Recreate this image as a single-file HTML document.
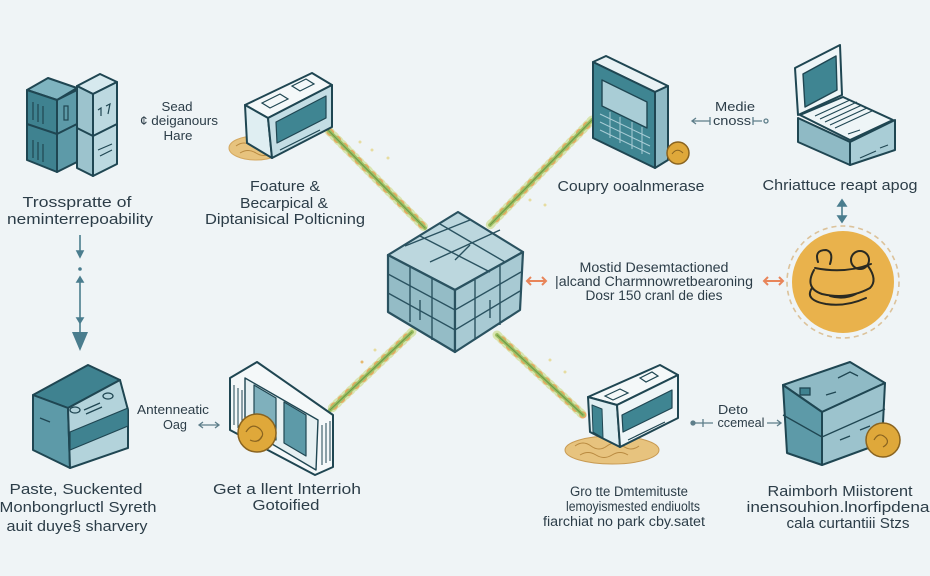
<!DOCTYPE html>
<html>
<head>
<meta charset="utf-8">
<style>
  html,body{margin:0;padding:0;background:#eff4f6;}
  svg{display:block;}
  text{font-family:"Liberation Sans",sans-serif;fill:#2c3d48;}
</style>
</head>
<body>
<svg width="930" height="576" viewBox="0 0 930 576" xmlns="http://www.w3.org/2000/svg">
  <rect width="930" height="576" fill="#eff4f6"/>

  <!-- ===== Vines ===== -->
  <g stroke-linecap="round">
    <g>
      <line x1="325" y1="127" x2="425" y2="228" stroke="#d3e19e" stroke-width="9" stroke-dasharray="2 4" opacity="0.8"/>
      <line x1="325" y1="127" x2="425" y2="228" stroke="#e9a862" stroke-width="7" stroke-dasharray="1 9" stroke-dashoffset="3"/>
      <line x1="325" y1="127" x2="425" y2="228" stroke="#9fc164" stroke-width="4" stroke-dasharray="3 2"/>
      <line x1="325" y1="127" x2="425" y2="228" stroke="#6f9a4a" stroke-width="1.2"/>
      <circle cx="360" cy="142" r="1.5" fill="#e6dca0"/><circle cx="372" cy="150" r="1.5" fill="#e6dca0"/><circle cx="388" cy="158" r="1.5" fill="#e6dca0"/>
    </g>
    <g>
      <line x1="592" y1="120" x2="490" y2="225" stroke="#d3e19e" stroke-width="9" stroke-dasharray="2 4" opacity="0.8"/>
      <line x1="592" y1="120" x2="490" y2="225" stroke="#e9a862" stroke-width="7" stroke-dasharray="1 9" stroke-dashoffset="3"/>
      <line x1="592" y1="120" x2="490" y2="225" stroke="#9fc164" stroke-width="4" stroke-dasharray="3 2"/>
      <line x1="592" y1="120" x2="490" y2="225" stroke="#6f9a4a" stroke-width="1.2"/>
      <circle cx="530" cy="200" r="1.5" fill="#e6dca0"/><circle cx="545" cy="205" r="1.5" fill="#e6dca0"/>
    </g>
    <g>
      <line x1="412" y1="332" x2="330" y2="410" stroke="#d3e19e" stroke-width="9" stroke-dasharray="2 4" opacity="0.8"/>
      <line x1="412" y1="332" x2="330" y2="410" stroke="#e9a862" stroke-width="7" stroke-dasharray="1 9" stroke-dashoffset="3"/>
      <line x1="412" y1="332" x2="330" y2="410" stroke="#9fc164" stroke-width="4" stroke-dasharray="3 2"/>
      <line x1="412" y1="332" x2="330" y2="410" stroke="#6f9a4a" stroke-width="1.2"/>
      <circle cx="362" cy="362" r="1.5" fill="#e6b870"/><circle cx="375" cy="350" r="1.5" fill="#e6dca0"/>
    </g>
    <g>
      <line x1="497" y1="335" x2="583" y2="415" stroke="#d3e19e" stroke-width="9" stroke-dasharray="2 4" opacity="0.8"/>
      <line x1="497" y1="335" x2="583" y2="415" stroke="#e9a862" stroke-width="7" stroke-dasharray="1 9" stroke-dashoffset="3"/>
      <line x1="497" y1="335" x2="583" y2="415" stroke="#9fc164" stroke-width="4" stroke-dasharray="3 2"/>
      <line x1="497" y1="335" x2="583" y2="415" stroke="#6f9a4a" stroke-width="1.2"/>
      <circle cx="550" cy="360" r="1.5" fill="#e6dca0"/><circle cx="565" cy="372" r="1.5" fill="#e6dca0"/>
    </g>
  </g>

  <!-- ===== Top-left server stack ===== -->
  <g stroke="#1f4652" stroke-width="2" stroke-linejoin="round">
    <polygon points="27,90 48,78 77,88 57,100" fill="#7fb4c0"/>
    <polygon points="27,90 57,100 57,172 27,160" fill="#3f8290"/>
    <polygon points="57,100 77,90 77,162 57,172" fill="#5d9aa8"/>
    <line x1="27" y1="124" x2="57" y2="134"/>
    <line x1="57" y1="134" x2="77" y2="124"/>
    <polygon points="77,86 100,74 117,82 93,94" fill="#d6e9ee"/>
    <polygon points="77,86 93,94 93,176 77,168" fill="#9cc3cd"/>
    <polygon points="93,94 117,82 117,164 93,176" fill="#bcd9e0"/>
    <line x1="77" y1="128" x2="93" y2="136"/>
    <line x1="93" y1="136" x2="117" y2="124"/>
  </g>
  <g stroke="#1f4652" stroke-width="1.2" fill="none">
    <line x1="33" y1="102" x2="33" y2="120"/><line x1="38" y1="104" x2="38" y2="122"/><line x1="43" y1="106" x2="43" y2="124"/>
    <line x1="33" y1="140" x2="33" y2="158"/><line x1="38" y1="142" x2="38" y2="160"/><line x1="43" y1="144" x2="43" y2="162"/>
    <rect x="64" y="106" width="4" height="14"/>
    <path d="M98 110 l3 -2 0 8 M106 106 l4 -2 -2 10"/>
    <path d="M98 150 l14 -6 M100 156 l12 -6"/>
  </g>

  <!-- ===== Top device with coins ===== -->
  <g stroke="#1f4652" stroke-width="2" stroke-linejoin="round">
    <ellipse cx="256" cy="148" rx="27" ry="12" fill="#e7c37e" stroke="#d4a860" stroke-width="1"/>
    <path d="M236 146 q8 -6 16 0 q8 6 16 0 M240 153 q8 -5 16 0 q8 5 14 0" fill="none" stroke="#b98a40" stroke-width="1"/>
    <polygon points="245,105 312,73 332,85 268,118" fill="#f4f8f9"/>
    <polygon points="245,105 268,118 272,158 247,143" fill="#dfeef2"/>
    <polygon points="268,118 332,85 332,127 272,158" fill="#c3dde4"/>
    <polygon points="276,122 326,96 326,118 277,143" fill="#3f8592" stroke-width="1.2"/>
  </g>
  <g stroke="#1f4652" stroke-width="1.2" fill="none">
    <polygon points="262,103 280,94 288,99 270,108"/>
    <polygon points="292,86 306,79 314,84 300,91"/>
    <line x1="280" y1="150" x2="320" y2="130"/>
  </g>

  <!-- ===== Tablet ===== -->
  <g stroke="#1f4652" stroke-width="2" stroke-linejoin="round">
    <polygon points="593,62 606,56 668,86 655,92" fill="#e9f2f4"/>
    <polygon points="655,92 668,86 668,160 655,168" fill="#8fbac5"/>
    <polygon points="593,62 655,92 655,168 593,138" fill="#3f8592"/>
    <polygon points="602,80 647,102 647,128 602,106" fill="#a9cdd6" stroke-width="1.4"/>
  </g>
  <g stroke="#a9cdd6" stroke-width="1" fill="none">
    <path d="M600 114 L650 138 M600 122 L650 146 M600 130 L650 154 M610 112 L610 138 M620 117 L620 143 M632 122 L632 149 M642 127 L642 154"/>
  </g>
  <circle cx="678" cy="153" r="11" fill="#dfa83a" stroke="#8a6420" stroke-width="1.5"/>
  <path d="M672 154 q5 -7 11 -1" fill="none" stroke="#8a6420" stroke-width="1"/>

  <!-- ===== Laptop ===== -->
  <g stroke="#1f4652" stroke-width="2" stroke-linejoin="round">
    <polygon points="798,118 850,142 850,165 798,142" fill="#8fbac5"/>
    <polygon points="850,142 895,120 895,150 850,165" fill="#a9cdd6"/>
    <polygon points="800,115 843,97 893,120 850,140" fill="#eef5f7"/>
    <polygon points="795,68 840,45 842,95 798,115" fill="#eef5f7"/>
    <polygon points="803,74 836,56 837,90 805,107" fill="#3f8592" stroke-width="1.4"/>
  </g>
  <g stroke="#1f4652" stroke-width="1.1" fill="none">
    <path d="M815 116 L850 100 M820 119 L857 102 M825 122 L862 105 M830 125 L867 108 M835 128 L872 111"/>
    <path d="M848 134 l12 -4"/>
    <path d="M860 158 l16 -7 M880 148 l8 -3"/>
  </g>

  <!-- ===== Central cube ===== -->
  <g stroke="#2a5260" stroke-width="2.2" stroke-linejoin="round">
    <polygon points="458,212 523,252 455,290 388,255" fill="#bcd7de"/>
    <polygon points="388,255 455,290 455,352 388,312" fill="#94bcc6"/>
    <polygon points="455,290 523,252 520,310 455,352" fill="#a8cad3"/>
  </g>
  <g stroke="#2a5260" stroke-width="1.4" fill="none">
    <path d="M420 236 L490 272 M440 224 L505 262 M405 246 L470 220 M430 262 L500 230 M470 245 L455 260"/>
    <path d="M388 274 L455 310 L521 272 M388 293 L455 330 L520 291"/>
    <path d="M410 266 L410 322 M432 278 L432 340 M475 280 L475 340 M500 266 L500 325 M420 300 L420 320 M490 300 L490 318"/>
  </g>

  <!-- ===== Gold circle ===== -->
  <circle cx="843" cy="282" r="56" fill="none" stroke="#dcc29a" stroke-width="1.6" stroke-dasharray="5 4"/>
  <circle cx="843" cy="282" r="51" fill="#e9b24c"/>
  <g stroke="#2a2a22" stroke-width="2" fill="none" stroke-linecap="round">
    <path d="M818 262 q-4 -12 8 -12 q8 2 4 14"/>
    <path d="M815 268 q30 6 56 -4"/>
    <circle cx="860" cy="260" r="9"/>
    <path d="M814 270 q-10 18 8 24 q26 6 48 -6 q8 -8 -2 -22"/>
    <path d="M812 288 q-8 12 14 16 q20 3 40 -6"/>
    <path d="M830 296 q14 4 26 -2"/>
  </g>

  <!-- ===== Bottom-left box ===== -->
  <g stroke="#1f4652" stroke-width="2" stroke-linejoin="round">
    <polygon points="33,395 88,365 120,380 68,408" fill="#3f8290"/>
    <polygon points="33,395 68,408 70,468 33,450" fill="#5d9aa8"/>
    <polygon points="68,408 120,380 128,410 128,448 70,468" fill="#b3d3db"/>
    <polygon points="70,432 128,408 128,426 70,450" fill="#3f8290" stroke-width="1.2"/>
  </g>
  <g stroke="#1f4652" stroke-width="1.3" fill="none">
    <ellipse cx="75" cy="410" rx="5" ry="3"/>
    <ellipse cx="108" cy="396" rx="5" ry="3"/>
    <path d="M84 410 l16 -7 M86 414 l16 -7"/>
    <path d="M40 418 l10 4"/>
  </g>

  <!-- ===== Bottom binder ===== -->
  <g stroke="#1f4652" stroke-width="2" stroke-linejoin="round">
    <polygon points="230,378 257,362 333,415 333,467 315,475 230,430" fill="#f4f8f9"/>
    <polygon points="245,378 318,420 316,470 245,428" fill="#e6f0f2" stroke-width="1.4"/>
    <polygon points="254,385 276,398 276,440 254,426" fill="#7fb0bc" stroke-width="1.2"/>
    <polygon points="284,402 306,415 306,456 284,443" fill="#5d9aa8" stroke-width="1.2"/>
  </g>
  <g stroke="#1f4652" stroke-width="1" fill="none">
    <path d="M234 385 l0 40 M238 388 l0 40 M242 390 l0 40 M322 425 l0 40 M326 423 l0 40 M330 421 l0 40"/>
  </g>
  <circle cx="257" cy="433" r="19" fill="#dfa83a" stroke="#8a6420" stroke-width="1.5"/>
  <path d="M246 432 q6 -10 14 -3 q6 6 -2 12 M250 440 q8 4 12 -4" fill="none" stroke="#8a6420" stroke-width="1.2"/>

  <!-- ===== Bottom middle-right device ===== -->
  <ellipse cx="612" cy="450" rx="47" ry="14" fill="#e7c37e" stroke="#c89a52" stroke-width="1"/>
  <path d="M575 446 q8 -6 16 0 q8 6 16 0 q8 -6 16 0 q8 6 16 0 M580 455 q8 -5 16 0 q8 5 16 0 q8 -5 16 0" fill="none" stroke="#b98a40" stroke-width="1"/>
  <g stroke="#1f4652" stroke-width="2" stroke-linejoin="round">
    <polygon points="588,397 660,365 678,375 617,405" fill="#f4f8f9"/>
    <polygon points="588,397 617,405 620,447 590,432" fill="#dfeef2"/>
    <polygon points="617,405 678,375 678,418 620,447" fill="#eef5f7"/>
    <polygon points="622,415 672,390 672,408 623,432" fill="#3f8592" stroke-width="1.2"/>
    <polygon points="592,405 602,409 603,438 593,432" fill="#3f8592" stroke-width="1"/>
  </g>
  <g stroke="#1f4652" stroke-width="1.2" fill="none">
    <polygon points="605,396 620,389 628,393 613,400"/>
    <polygon points="640,378 652,372 658,376 646,382"/>
    <line x1="628" y1="440" x2="665" y2="422"/>
  </g>

  <!-- ===== Bottom-right chest ===== -->
  <g stroke="#1f4652" stroke-width="2" stroke-linejoin="round">
    <polygon points="783,385 850,362 885,383 822,412" fill="#8fbac5"/>
    <polygon points="783,385 822,412 822,465 787,453" fill="#5d9aa8"/>
    <polygon points="822,412 885,383 882,443 822,465" fill="#9cc3cd"/>
  </g>
  <g stroke="#1f4652" stroke-width="1.3" fill="none">
    <path d="M783 415 l39 22 l63 -28"/>
    <rect x="800" y="388" width="10" height="7" fill="#3f8290"/>
    <path d="M838 378 l12 -6 l8 4 M826 395 l10 -3"/>
    <path d="M840 440 l10 -4 M860 430 l10 -4"/>
  </g>
  <circle cx="883" cy="440" r="17" fill="#dfa83a" stroke="#8a6420" stroke-width="1.5"/>
  <path d="M874 440 q5 -9 12 -2 q4 5 -3 9" fill="none" stroke="#8a6420" stroke-width="1.2"/>

  <!-- ===== Arrows ===== -->
  <g stroke="#4a7d8e" stroke-width="1.6" fill="#4a7d8e">
    <line x1="80" y1="235" x2="80" y2="254"/>
    <path d="M77 251 L80 257 L83 251Z"/>
    <circle cx="80" cy="269" r="1.8" stroke="none"/>
    <path d="M77 282 L80 277 L83 282Z"/>
    <line x1="80" y1="280" x2="80" y2="336"/>
    <path d="M77 318 L80 323 L83 318Z"/>
    <path d="M72 332 L80 351 L88 332Z" stroke="none"/>
    <line x1="842" y1="202" x2="842" y2="220"/>
    <path d="M838 206 L842 200 L846 206Z"/>
    <path d="M838 216 L842 222 L846 216Z"/>
  </g>
  <g stroke="#5e7e8a" stroke-width="1.3" fill="none">
    <path d="M692 121 L710 121 M696 118 L692 121 L696 124 M710 117 L710 125"/>
    <path d="M753 117 L753 125 M753 121 L762 121"/>
    <circle cx="766" cy="121" r="2"/>
    <path d="M199 425 L219 425 M203 422 L199 425 L203 428 M215 422 L219 425 L215 428"/>
    <path d="M692 423 L713 423 M703 419 L703 427"/>
    <circle cx="693" cy="423" r="2" fill="#5e7e8a"/>
    <path d="M767 423 L781 423 M777 420 L781 423 L777 426"/>
  </g>
  <g stroke="#e8855a" stroke-width="2" fill="none">
    <path d="M527 281 L546 281 M531 277 L527 281 L531 285 M542 277 L546 281 L542 285"/>
    <path d="M764 281 L783 281 M768 277 L764 281 L768 285 M779 277 L783 281 L779 285"/>
  </g>

  <!-- ===== Labels ===== -->
  <g font-size="15" text-anchor="middle">
    <text x="77" y="207" textLength="109" lengthAdjust="spacingAndGlyphs">Trosspratte of</text>
    <text x="80" y="224" textLength="146" lengthAdjust="spacingAndGlyphs">neminterrepoability</text>
    <text x="285" y="191" textLength="70" lengthAdjust="spacingAndGlyphs">Foature &amp;</text>
    <text x="284" y="208" textLength="88" lengthAdjust="spacingAndGlyphs">Becarpical &amp;</text>
    <text x="285" y="224" textLength="160" lengthAdjust="spacingAndGlyphs">Diptanisical Polticning</text>
    <text x="631" y="191" textLength="147" lengthAdjust="spacingAndGlyphs">Coupry ooalnmerase</text>
    <text x="840" y="190" textLength="155" lengthAdjust="spacingAndGlyphs">Chriattuce reapt apog</text>
    <text x="76" y="494" textLength="133" lengthAdjust="spacingAndGlyphs">Paste, Suckented</text>
    <text x="78" y="512" textLength="157" lengthAdjust="spacingAndGlyphs">Monbongrluctl Syreth</text>
    <text x="77" y="531" textLength="141" lengthAdjust="spacingAndGlyphs">auit duye§ sharvery</text>
    <text x="287" y="494" textLength="148" lengthAdjust="spacingAndGlyphs">Get a llent lnterrioh</text>
    <text x="286" y="510" textLength="67" lengthAdjust="spacingAndGlyphs">Gotoified</text>
    <text x="840" y="496" textLength="145" lengthAdjust="spacingAndGlyphs">Raimborh Miistorent</text>
    <text x="838" y="512" textLength="183" lengthAdjust="spacingAndGlyphs">inensouhion.lnorfipdena</text>
    <text x="848" y="528" textLength="123" lengthAdjust="spacingAndGlyphs">cala curtantiii Stzs</text>
  </g>
  <g font-size="13.5" text-anchor="middle">
    <text x="654" y="272" textLength="149" lengthAdjust="spacingAndGlyphs">Mostid Desemtactioned</text>
    <text x="654" y="286" textLength="198" lengthAdjust="spacingAndGlyphs">|alcand Charmnowretbearoning</text>
    <text x="654" y="300" textLength="137" lengthAdjust="spacingAndGlyphs">Dosr 150 cranl de dies</text>
    <text x="629" y="496" textLength="118" lengthAdjust="spacingAndGlyphs">Gro tte Dmtemituste</text>
    <text x="633" y="511" textLength="134" lengthAdjust="spacingAndGlyphs">lemoyismested endiuolts</text>
    <text x="624" y="526" textLength="162" lengthAdjust="spacingAndGlyphs">fiarchiat no park cby.satet</text>
  </g>
  <g font-size="13" text-anchor="middle" style="fill:#3a4c57">
    <text x="177" y="111" textLength="31" lengthAdjust="spacingAndGlyphs">Sead</text>
    <text x="179" y="125" textLength="78" lengthAdjust="spacingAndGlyphs">¢ deiganours</text>
    <text x="178" y="140" textLength="29" lengthAdjust="spacingAndGlyphs">Hare</text>
    <text x="735" y="111" textLength="40" lengthAdjust="spacingAndGlyphs">Medie</text>
    <text x="732" y="125" textLength="38" lengthAdjust="spacingAndGlyphs">cnoss</text>
    <text x="173" y="414" textLength="72" lengthAdjust="spacingAndGlyphs">Antenneatic</text>
    <text x="175" y="429" textLength="24" lengthAdjust="spacingAndGlyphs">Oag</text>
    <text x="733" y="414" textLength="30" lengthAdjust="spacingAndGlyphs">Deto</text>
    <text x="741" y="427" textLength="47" lengthAdjust="spacingAndGlyphs">ccemeal</text>
  </g>
</svg>
</body>
</html>
